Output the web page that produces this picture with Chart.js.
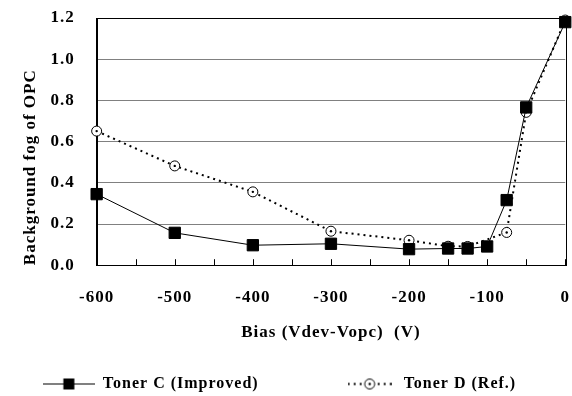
<!DOCTYPE html>
<html>
<head>
<meta charset="utf-8">
<script src="https://cdn.jsdelivr.net/npm/chart.js@4"></script>
<style>
  html, body { margin: 0; padding: 0; background: #fff; }
  #wrap { width: 572px; height: 396px; }
</style>
</head>
<body>
<div id="wrap"><canvas id="chart"></canvas></div>
<script>
// data
const biasC = [-600, -500, -400, -300, -200, -150, -125, -100, -75, -50, 0];
const fogC = [0.345, 0.157, 0.097, 0.104, 0.078, 0.081, 0.081, 0.091, 0.316, 0.766, 1.18];
const biasD = [-600, -500, -400, -300, -200, -150, -125, -75, -50, 0];
const fogD = [0.651, 0.482, 0.356, 0.165, 0.121, 0.092, 0.091, 0.159, 0.742, 1.19];
const seriesNames = ['Toner C (Improved)', 'Toner D (Ref.)'];
const yTickLabels = ['0.0', '0.2', '0.4', '0.6', '0.8', '1.0', '1.2'];

const FONT = '"Liberation Serif", "Times New Roman", serif';

// little canvases used as legend symbols
function makeCanvas(w, h) {
  const c = document.createElement('canvas');
  c.width = w; c.height = h;
  return c;
}
function drawRing(ctx, x, y) {
  ctx.beginPath();
  ctx.arc(x, y, 5, 0, Math.PI * 2);
  ctx.fillStyle = '#fff';
  ctx.fill();
  ctx.lineWidth = 1;
  ctx.strokeStyle = '#000';
  ctx.stroke();
  ctx.beginPath();
  ctx.arc(x, y, 1.2, 0, Math.PI * 2);
  ctx.fillStyle = '#000';
  ctx.fill();
}

const iconC = makeCanvas(52, 13);
(function () {
  const g = iconC.getContext('2d');
  g.strokeStyle = '#000'; g.lineWidth = 1;
  g.beginPath(); g.moveTo(0, 6.5); g.lineTo(52, 6.5); g.stroke();
  g.fillStyle = '#000';
  g.fillRect(20.5, 1, 11, 11);
})();
const iconD = makeCanvas(44, 13);
(function () {
  const g = iconD.getContext('2d');
  g.strokeStyle = '#000'; g.lineWidth = 2;
  g.setLineDash([2, 4]);
  g.beginPath(); g.moveTo(0, 6.5); g.lineTo(44, 6.5); g.stroke();
  g.setLineDash([]);
  drawRing(g, 22, 6.5);
})();
const legendIcons = [iconC, iconD];
// trailing spaces spread the legend entries like in the original
const legendTexts = [seriesNames[0] + '                 ', seriesNames[1] + '     '];

const spacing = {
  id: 'spacing',
  beforeUpdate(chart) { chart.ctx.letterSpacing = '1px'; },
  beforeDraw(chart) { chart.ctx.letterSpacing = '1px'; }
};
// plot frame and the small inward tick marks on the bias axis
const frame = {
  id: 'frame',
  beforeDatasetsDraw(chart) {
    const a = chart.chartArea, ctx = chart.ctx, xs = chart.scales.x;
    ctx.save();
    ctx.strokeStyle = '#000';
    ctx.lineWidth = 1;
    ctx.strokeRect(Math.round(a.left) + 0.5, Math.round(a.top) + 0.5,
      Math.round(a.right - a.left), Math.round(a.bottom - a.top));
    ctx.beginPath();
    xs.ticks.forEach(t => {
      const px = Math.round(xs.getPixelForValue(t.value)) + 0.5;
      ctx.moveTo(px, a.bottom);
      ctx.lineTo(px, a.bottom - 6);
    });
    ctx.stroke();
    ctx.restore();
  }
};
// centre dot of the Toner D rings, drawn before Toner C goes on top
const ringDots = {
  id: 'ringDots',
  afterDatasetDraw(chart, args) {
    if (args.index !== 1) return;
    const ctx = chart.ctx;
    ctx.save();
    ctx.fillStyle = '#000';
    args.meta.data.forEach(pt => {
      ctx.beginPath();
      ctx.arc(pt.x, pt.y, 1.2, 0, Math.PI * 2);
      ctx.fill();
    });
    ctx.restore();
  }
};

new Chart(document.getElementById('chart'), {
  type: 'line',
  data: {
    datasets: [
      {
        label: seriesNames[0],
        data: biasC.map((x, i) => ({ x: x, y: fogC[i] })),
        borderColor: '#000',
        borderWidth: 1,
        pointStyle: 'rect',
        pointRadius: 8,
        pointBackgroundColor: '#000',
        pointBorderColor: '#000',
        tension: 0,
        clip: false
      },
      {
        label: seriesNames[1],
        data: biasD.map((x, i) => ({ x: x, y: fogD[i] })),
        borderColor: '#000',
        borderWidth: 2,
        borderDash: [2, 4],
        pointStyle: 'circle',
        pointRadius: 5,
        pointBorderWidth: 1,
        pointBackgroundColor: '#fff',
        pointBorderColor: '#000',
        tension: 0,
        clip: false
      }
    ]
  },
  options: {
    responsive: true,
    maintainAspectRatio: false,
    animation: false,
    layout: { autoPadding: false, padding: { top: 18, left: 18, right: 6, bottom: 0 } },
    scales: {
      x: {
        type: 'linear',
        min: -600, max: 0,
        grid: { drawOnChartArea: false, drawTicks: true, tickLength: 20, tickColor: 'rgba(0,0,0,0)' },
        border: { color: '#000', width: 1 },
        ticks: {
          stepSize: 50, autoSkip: false, maxRotation: 0, padding: 2,
          color: '#000', font: { family: FONT, size: 17, weight: 'bold' },
          callback: v => (v % 100 === 0 ? String(v) : '')
        },
        title: {
          display: true, text: 'Bias (Vdev-Vopc)  (V)', color: '#000',
          font: { family: FONT, size: 17, weight: 'bold' },
          padding: { top: 13, bottom: 33 }
        }
      },
      y: {
        min: 0, max: 1.2,
        grid: { color: '#808080', lineWidth: 1, drawTicks: true, tickLength: 20, tickColor: 'rgba(0,0,0,0)' },
        border: { color: '#000', width: 1 },
        ticks: {
          stepSize: 0.2, padding: 2, color: '#000',
          font: { family: FONT, size: 17, weight: 'bold' },
          callback: (v, i) => yTickLabels[i]
        },
        title: {
          display: true, text: 'Background fog of OPC', align: 'start', color: '#000',
          font: { family: FONT, size: 17, weight: 'bold' },
          padding: { top: 2, bottom: 8 }
        }
      }
    },
    plugins: {
      legend: {
        position: 'bottom',
        maxHeight: 20,
        labels: {
          usePointStyle: true,
          pointStyleWidth: 52,
          padding: 0,
          color: '#000',
          font: { family: FONT, size: 16, weight: 'bold' },
          generateLabels: chart => chart.data.datasets.map((ds, i) => ({
            text: legendTexts[i],
            pointStyle: legendIcons[i],
            fillStyle: '#000',
            strokeStyle: '#000',
            lineWidth: 0,
            fontColor: '#000',
            hidden: false,
            datasetIndex: i
          }))
        }
      },
      tooltip: { enabled: false }
    }
  },
  plugins: [spacing, frame, ringDots]
});
</script>
</body>
</html>
